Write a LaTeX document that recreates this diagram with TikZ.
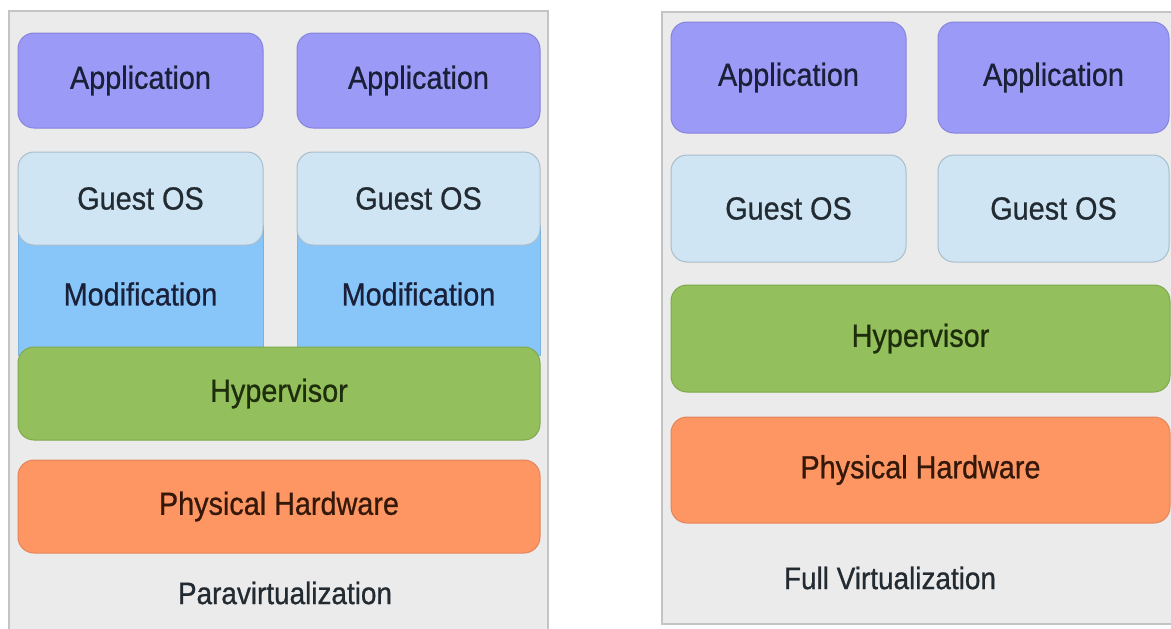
\documentclass[tikz,border=0pt]{standalone}
\usepackage{fontspec}
\setmainfont{Liberation Sans}
\newfontfamily\lblfont[FakeBold=0.8]{Liberation Sans}
\definecolor{bgpanel}{HTML}{EBEBEB}
\definecolor{bdpanel}{HTML}{C4C4C4}
\definecolor{appfill}{HTML}{9C9AF7}
\definecolor{appdraw}{HTML}{8684DC}
\definecolor{gstfill}{HTML}{D0E5F4}
\definecolor{gstdraw}{HTML}{A9BDCB}
\definecolor{modfill}{HTML}{88C6F9}
\definecolor{modedge}{HTML}{7AB2E0}
\definecolor{hypfill}{HTML}{93BF5C}
\definecolor{hypdraw}{HTML}{7FA94C}
\definecolor{phyfill}{HTML}{FD9662}
\definecolor{phydraw}{HTML}{E4845A}
\definecolor{txtnavy}{HTML}{1A2038}
\definecolor{txtgray}{HTML}{222A32}
\definecolor{txtgreen}{HTML}{1E2E0C}
\definecolor{txtbrown}{HTML}{34180A}
\newcommand\sqz[1]{\scalebox{0.9}[1]{#1}}
\tikzset{
  x=1pt,y=-1pt,
  panel/.style={fill=bgpanel,draw=bdpanel,line width=1.5pt},
  layer/.style={rectangle,rounded corners=16pt,line width=1pt,inner sep=0pt,outer sep=0pt,
    font=\lblfont\fontsize{32}{34}\selectfont},
  appbox/.style={layer,fill=appfill,draw=appdraw,text=txtnavy},
  gstbox/.style={layer,fill=gstfill,draw=gstdraw,text=txtgray},
  modbox/.style={rectangle,fill=modfill,draw=modedge,line width=0.8pt,inner sep=0pt,outer sep=0pt},
  hypbox/.style={layer,fill=hypfill,draw=hypdraw,text=txtgreen},
  phybox/.style={layer,fill=phyfill,draw=phydraw,text=txtbrown},
  caption/.style={font=\lblfont\fontsize{31}{34}\selectfont,text=txtgray,inner sep=0pt},
  modlabel/.style={font=\lblfont\fontsize{32}{34}\selectfont,text=txtnavy,inner sep=0pt}
}
\begin{document}
\begin{tikzpicture}
\useasboundingbox (0,0) rectangle (1171,629);
\fill[white] (0,0) rectangle (1171,629);
% ---------- Paravirtualization panel ----------
\draw[panel] (9,11) rectangle (548,660);
\node[appbox,minimum width=245pt,minimum height=95pt] (pa1) at (140.5,80.5) {\sqz{Application}};
\node[appbox,minimum width=243pt,minimum height=95pt] (pa2) at (418.5,80.5) {\sqz{Application}};
\node[modbox,minimum width=245pt,minimum height=130pt] (pm1) at (140.5,290) {};
\node[modbox,minimum width=243pt,minimum height=130pt] (pm2) at (418.5,290) {};
\node[modlabel] (pml1) at (140.5,294) {\sqz{Modification}};
\node[modlabel] (pml2) at (418.5,294) {\sqz{Modification}};
\node[gstbox,minimum width=245pt,minimum height=93pt] (pg1) at (140.5,198.5) {\sqz{Guest OS}};
\node[gstbox,minimum width=243pt,minimum height=93pt] (pg2) at (418.5,198.5) {\sqz{Guest OS}};
\node[hypbox,minimum width=522pt,minimum height=93pt] (ph) at (279,393.5) {\sqz{Hypervisor}};
\node[phybox,minimum width=522pt,minimum height=93pt] (pp) at (279,506.5) {\sqz{Physical Hardware}};
\node[caption] (pc) at (285,593) {\sqz{Paravirtualization}};
% ---------- Full virtualization panel ----------
\draw[panel] (662,12) rectangle (1190,624);
\node[appbox,minimum width=235pt,minimum height=111pt] (fa1) at (788.5,77.5) {\sqz{Application}};
\node[appbox,minimum width=231pt,minimum height=111pt] (fa2) at (1053.5,77.5) {\sqz{Application}};
\node[gstbox,minimum width=235pt,minimum height=107pt] (fg1) at (788.5,208.5) {\sqz{Guest OS}};
\node[gstbox,minimum width=231pt,minimum height=107pt] (fg2) at (1053.5,208.5) {\sqz{Guest OS}};
\node[hypbox,minimum width=499pt,minimum height=107pt] (fh) at (920.5,338.5) {\sqz{Hypervisor}};
\node[phybox,minimum width=499pt,minimum height=106pt] (fp) at (920.5,470) {\sqz{Physical Hardware}};
\node[caption] (fc) at (890,578) {\sqz{Full Virtualization}};
\end{tikzpicture}
\end{document}
